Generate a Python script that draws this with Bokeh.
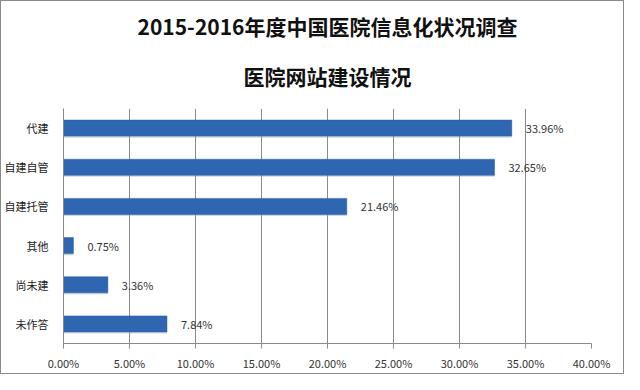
from bokeh.plotting import figure
from bokeh.models import Title, FactorRange, PrintfTickFormatter, FixedTicker, ColumnDataSource
from bokeh.transform import dodge
from bokeh.embed import file_html
from bokeh.resources import INLINE

title_line1 = "2015-2016年度中国医院信息化状况调查"
title_line2 = "医院网站建设情况"
categories = ["代建", "自建自管", "自建托管", "其他", "尚未建", "未作答"]
values = [33.96, 32.65, 21.46, 0.75, 3.36, 7.84]
labels = ["33.96%", "32.65%", "21.46%", "0.75%", "3.36%", "7.84%"]
x_ticks = [0, 5, 10, 15, 20, 25, 30, 35, 40]

FONT = "Noto Sans CJK SC"

src = ColumnDataSource(dict(cat=categories, val=values, lab=labels))

p = figure(width=624, height=374, output_backend="svg", toolbar_location=None,
           y_range=FactorRange(factors=list(reversed(categories)), range_padding=0),
           x_range=(0, 40), title=None,
           min_border_left=62, min_border_right=34, min_border_bottom=32, min_border_top=107)
p.styles = {"border": "1px solid #8a8a8a", "box-sizing": "border-box"}
p.outline_line_color = None
p.background_fill_color = "white"
p.border_fill_color = "white"

p.add_layout(Title(text=title_line2, align="center", text_font=FONT, text_font_size="21px",
                   text_font_style="bold", text_color="#111111", standoff=36), "above")
p.add_layout(Title(text=title_line1, align="center", text_font=FONT, text_font_size="21px",
                   text_font_style="bold", text_color="#111111", standoff=0), "above")

# shadow
p.hbar(y=dodge("cat", -0.04, range=p.y_range), left=0, right="val", height=0.41,
       source=src, fill_color="#9aa3b3", fill_alpha=0.45, line_color=None)
p.hbar(y="cat", left=0, right="val", height=0.41, source=src,
       fill_color="#2e66b1", line_color="#2a5fa6", line_width=0.5)

p.text(x="val", y="cat", text="lab", source=src, x_offset=14, text_align="left",
       text_baseline="middle", text_font_size="11px", text_color="#333333",
       text_font={"value": FONT})

p.xaxis.ticker = FixedTicker(ticks=x_ticks)
p.xaxis.formatter = PrintfTickFormatter(format="%.2f%%")
p.xaxis.major_label_text_font = FONT
p.xaxis.major_label_text_font_size = "11px"
p.xaxis.major_label_text_color = "#333333"
p.xaxis.axis_line_color = "#8a8a8a"
p.xaxis.major_tick_line_color = "#8a8a8a"
p.xaxis.major_tick_out = 5
p.xaxis.major_tick_in = 0
p.xaxis.minor_tick_line_color = None
p.xaxis.major_label_standoff = 6

p.yaxis.major_label_text_font = FONT
p.yaxis.major_label_text_font_size = "11px"
p.yaxis.major_label_text_color = "#222222"
p.yaxis.axis_line_color = "#8a8a8a"
p.yaxis.major_tick_line_color = None
p.yaxis.major_label_standoff = 9

p.xgrid.grid_line_color = "#8a8a8a"
p.xgrid.ticker = FixedTicker(ticks=x_ticks)
p.ygrid.grid_line_color = None

open("out.html", "w").write(file_html(p, INLINE))
